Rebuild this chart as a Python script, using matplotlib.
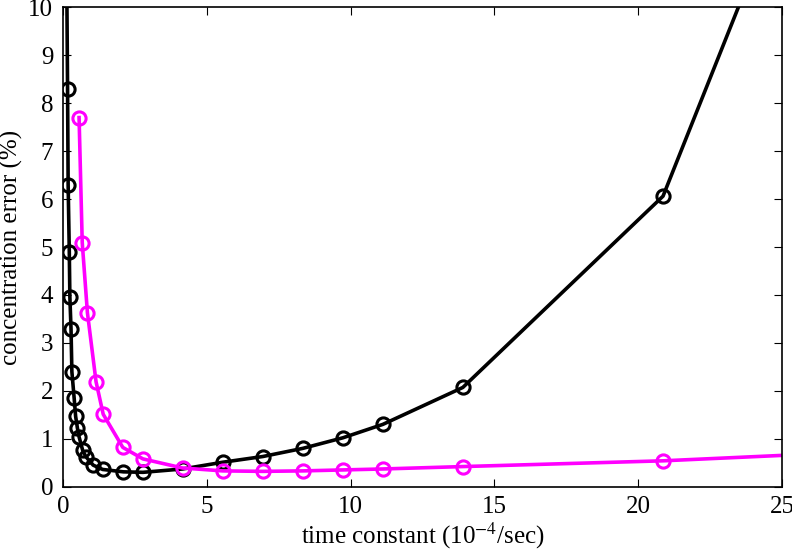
import numpy as np
import matplotlib
matplotlib.use('Agg')
import matplotlib.pyplot as plt

# black series
x_black = [0.12, 0.16, 0.18, 0.22, 0.24, 0.28, 0.31, 0.39, 0.44, 0.50, 0.56, 0.68, 0.79,
           1.05, 1.38, 2.10, 2.78, 4.16, 5.55, 6.95, 8.34, 9.73, 11.12, 13.90, 20.86, 27.80]
y_black = [11.5, 8.30, 6.30, 4.90, 3.96, 3.29, 2.40, 1.84, 1.47, 1.23, 1.04, 0.77, 0.63,
           0.45, 0.36, 0.31, 0.30, 0.37, 0.51, 0.63, 0.80, 1.02, 1.30, 2.07, 6.06, 16.5]

# magenta series
x_mag = [0.56, 0.67, 0.85, 1.15, 1.40, 2.08, 2.78, 4.16, 5.55, 6.95, 8.34, 9.73, 11.12,
         13.90, 20.86, 27.80]
y_mag = [7.70, 5.09, 3.63, 2.19, 1.51, 0.82, 0.58, 0.39, 0.33, 0.32, 0.33, 0.35, 0.37,
         0.42, 0.54, 0.73]

plt.rcParams['font.family'] = ['Liberation Serif', 'DejaVu Serif']
plt.rcParams['mathtext.fontset'] = 'stix'

fig = plt.figure(figsize=(7.92, 5.57), dpi=100)
ax = fig.add_axes([0.0795, 0.1262, 0.908, 0.8607])

ax.plot(x_black, y_black, '-o', color='black', lw=2.6, ms=9.5, mew=2.2,
        mfc='none')
ax.plot(x_mag, y_mag, '-o', color='#ff00ff', lw=2.6, ms=9.5, mew=2.2,
        mfc='none')

ax.set_xlim(0, 25)
ax.set_ylim(0, 10)
ax.set_xticks(np.arange(0, 26, 5))
ax.set_yticks(np.arange(0, 11, 1))
ax.tick_params(direction='in', top=True, right=True, length=6, labelsize=18, pad=7)
for s in ax.spines.values():
    s.set_linewidth(1.2)

ax.set_xlabel('time constant (10$^{-4}$/sec)', fontsize=18, labelpad=2)
ax.set_ylabel('concentration error (%)', fontsize=18, labelpad=4)

fig.savefig('out.png', dpi=100)
